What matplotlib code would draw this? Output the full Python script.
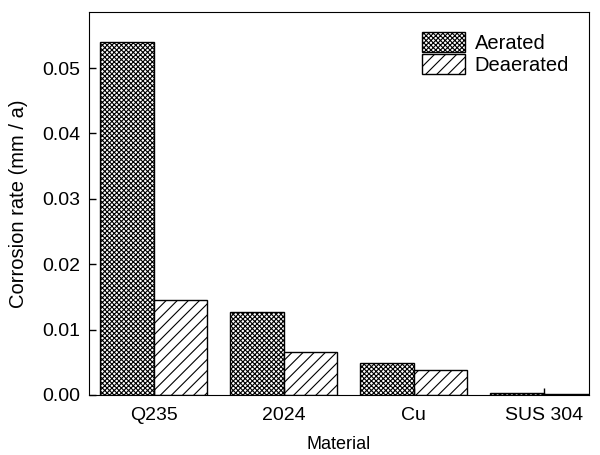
import matplotlib.pyplot as plt
import numpy as np

materials = ["Q235", "2024", "Cu", "SUS 304"]
aerated = [0.0540, 0.0127, 0.0049, 0.0003]
deaerated = [0.0145, 0.0066, 0.0038, 0.0001]

plt.rcParams['font.family'] = ['Liberation Sans', 'DejaVu Sans']
plt.rcParams['hatch.linewidth'] = 0.8

fig = plt.figure(figsize=(6, 4.55), dpi=100)
ax = fig.add_axes([0.148, 0.132, 0.834, 0.842])

x = np.arange(len(materials))
w = 0.41
ax.bar(x - w / 2, aerated, w, color="white", edgecolor="black", hatch="xxxxxxx",
       linewidth=1, label="Aerated")
ax.bar(x + w / 2, deaerated, w, color="white", edgecolor="black", hatch="///",
       linewidth=1, label="Deaerated")

ax.set_xlim(-0.5, 3.35)
ax.set_ylim(0, 0.0586)
ax.set_xticks(x)
ax.set_xticklabels(materials)
ax.set_yticks([0, 0.01, 0.02, 0.03, 0.04, 0.05])
ax.set_yticklabels(["0.00", "0.01", "0.02", "0.03", "0.04", "0.05"])
ax.tick_params(direction="in", length=5, labelsize=14, width=1, pad=6)
ax.tick_params(axis="x", pad=9)
ax.set_xlabel("Material", fontsize=13, labelpad=8)
ax.set_ylabel("Corrosion rate (mm / a)", fontsize=14.5, labelpad=10)
ax.legend(loc="upper right", frameon=False, fontsize=14.5, handlelength=2.1,
          handleheight=1.15, handletextpad=0.5, labelspacing=0.08,
          borderaxespad=0.6)

plt.savefig("out.png")
